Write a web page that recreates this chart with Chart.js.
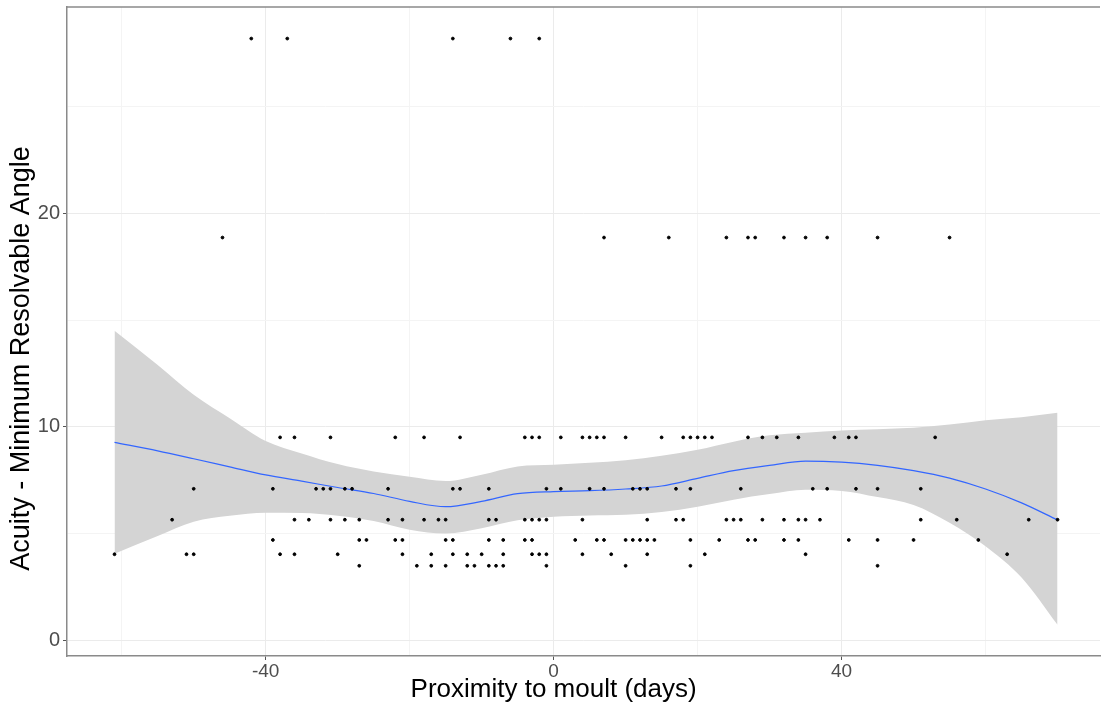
<!DOCTYPE html>
<html>
<head>
<meta charset="utf-8">
<script src="https://cdn.jsdelivr.net/npm/chart.js@4"></script>
<style>
  html, body { margin: 0; padding: 0; background: #fff; }
  #wrap { width: 1105px; height: 704px; }
</style>
</head>
<body>
<div id="wrap"><canvas id="acuity"></canvas></div>
<script>
// observed MRA levels (rows of points) and the days at which each was measured
var levelTop = 28.2, xTop = [-42, -37, -14, -6, -2];
var level19 = 18.87, x19 = [-46, 7, 16, 24, 27, 28, 32, 35, 38, 45, 55];
var level95 = 9.5, x95 = [-38, -36, -31, -22, -18, -13, -4, -3, -2, 1, 4, 5, 6, 7, 10, 15, 18, 19, 20, 21, 22, 27, 29, 31, 34, 39, 41, 42, 53];
var level71 = 7.09, x71 = [-50, -39, -33, -32, -31, -29, -28, -23, -14, -13, -9, -1, 1, 5, 7, 11, 12, 13, 17, 19, 26, 36, 38, 42, 45, 51];
var level56 = 5.64, x56 = [-53, -36, -34, -31, -29, -27, -23, -21, -18, -16, -15, -9, -8, -4, -3, -2, -1, 4, 13, 17, 18, 24, 25, 26, 29, 32, 34, 35, 37, 51, 56, 66, 70];
var level47 = 4.69, x47 = [-39, -27, -26, -22, -21, -15, -14, -9, -7, -4, -3, 3, 6, 7, 10, 11, 12, 13, 14, 19, 23, 27, 28, 32, 34, 41, 45, 50, 59];
var level40 = 4.02, x40 = [-61, -51, -50, -38, -36, -30, -21, -17, -14, -12, -10, -7, -3, -2, -1, 4, 8, 13, 21, 35, 63];
var level35 = 3.48, x35 = [-27, -19, -17, -15, -12, -11, -9, -8, -7, -1, 10, 19, 45];

// loess fit with its confidence band
var smoothX  = [-61, -55, -50, -45, -40, -35, -30, -25, -20, -15, -10, -5, 0, 5, 10, 15, 20, 25, 30, 35, 40, 45, 50, 55, 60, 65, 70];
var smoothY  = [9.27, 8.87, 8.5, 8.12, 7.74, 7.45, 7.15, 6.87, 6.5, 6.25, 6.5, 6.86, 6.96, 7.0, 7.08, 7.22, 7.58, 7.94, 8.19, 8.39, 8.34, 8.19, 7.94, 7.59, 7.08, 6.43, 5.63];
var smoothHi = [14.5, 12.9, 11.5, 10.4, 9.33, 8.75, 8.25, 7.9, 7.65, 7.45, 7.75, 8.14, 8.22, 8.31, 8.43, 8.64, 8.92, 9.3, 9.6, 9.72, 9.82, 9.88, 9.95, 10.1, 10.3, 10.45, 10.65];
var smoothLo = [4.05, 4.88, 5.55, 5.83, 5.97, 5.96, 5.83, 5.58, 5.17, 4.99, 5.24, 5.61, 5.78, 5.84, 5.87, 6.0, 6.25, 6.58, 6.84, 7.04, 6.99, 6.7, 6.33, 5.5, 4.4, 2.93, 0.72];

var xTicks = [-60, -40, -20, 0, 20, 40, 60];
var xLabels = [-40, 0, 40];
var yTicks = [0, 5, 10, 15, 20, 25];
var yLabels = [0, 10, 20];
var xTitle = 'Proximity to moult (days)';
var yTitle = 'Acuity - Minimum Resolvable Angle';

function rowPoints(xs, level) {
  return xs.map(function (d) { return {x: d, y: level}; });
}
var points = [].concat(
  rowPoints(xTop, levelTop), rowPoints(x19, level19), rowPoints(x95, level95),
  rowPoints(x71, level71), rowPoints(x56, level56), rowPoints(x47, level47),
  rowPoints(x40, level40), rowPoints(x35, level35)
);
function curve(ys) {
  return smoothX.map(function (d, i) { return {x: d, y: ys[i]}; });
}

var FONT = 'Liberation Sans, Arial, sans-serif';

// top edge of the panel box + axis titles (the titles sit off-centre in the original)
var extras = {
  id: 'extras',
  afterDraw: function (chart) {
    var a = chart.chartArea, c = chart.ctx;
    c.save();
    c.strokeStyle = '#8a8a8a';
    c.lineWidth = 1.5;
    c.beginPath();
    c.moveTo(a.left, a.top);
    c.lineTo(a.right, a.top);
    c.stroke();

    c.fillStyle = '#000';
    c.font = '26px ' + FONT;
    c.textAlign = 'center';
    c.textBaseline = 'middle';
    c.fillText(xTitle, chart.scales.x.getPixelForValue(0), 690);

    c.font = '27px ' + FONT;
    c.translate(22, chart.scales.y.getPixelForValue(13.2));
    c.rotate(-Math.PI / 2);
    c.fillText(yTitle, 0, 0);
    c.restore();
  }
};

var ctx = document.getElementById('acuity').getContext('2d');
var chart = new Chart(ctx, {
  type: 'scatter',
  data: {
    datasets: [
      {
        label: 'points',
        data: points,
        backgroundColor: '#000',
        borderColor: '#000',
        pointRadius: 1.4,
        order: 0
      },
      {
        type: 'line',
        label: 'fit',
        data: curve(smoothY),
        borderColor: '#3366FF',
        borderWidth: 1.2,
        pointRadius: 0,
        fill: false,
        cubicInterpolationMode: 'monotone',
        order: 1
      },
      {
        type: 'line',
        label: 'lower',
        data: curve(smoothLo),
        borderColor: 'rgba(0,0,0,0)',
        borderWidth: 0,
        pointRadius: 0,
        fill: false,
        cubicInterpolationMode: 'monotone',
        order: 3
      },
      {
        type: 'line',
        label: 'upper',
        data: curve(smoothHi),
        borderColor: 'rgba(0,0,0,0)',
        borderWidth: 0,
        backgroundColor: '#d4d4d4',
        pointRadius: 0,
        fill: '-1',
        cubicInterpolationMode: 'monotone',
        order: 2
      }
    ]
  },
  options: {
    responsive: true,
    maintainAspectRatio: false,
    animation: false,
    layout: { padding: { top: 7, left: 0, right: 0, bottom: 0 } },
    plugins: {
      legend: { display: false },
      tooltip: { enabled: false }
    },
    scales: {
      x: {
        type: 'linear',
        min: -67.6,
        max: 75.9,
        afterFit: function (s) {
          s.height = 48;
          s.paddingLeft = 0; s.paddingRight = 0;
        },
        afterBuildTicks: function (s) { s.ticks = xTicks.map(function (v) { return {value: v}; }); },
        ticks: {
          autoSkip: false,
          maxRotation: 0,
          padding: 0,
          color: '#4d4d4d',
          font: { family: FONT, size: 19 },
          callback: function (v) { return xLabels.indexOf(v) >= 0 ? String(v) : ''; }
        },
        grid: {
          color: function (c) { return xLabels.indexOf(c.tick.value) >= 0 ? '#ebebeb' : '#f4f4f4'; },
          tickColor: function (c) { return xLabels.indexOf(c.tick.value) >= 0 ? '#555' : 'rgba(0,0,0,0)'; },
          tickLength: 4
        },
        border: { color: '#8a8a8a', width: 1.5 },
        title: { display: false, text: xTitle }
      },
      y: {
        type: 'linear',
        min: -0.75,
        max: 29.68,
        afterFit: function (s) {
          s.width = 67;
          s.paddingTop = 0; s.paddingBottom = 0;
        },
        afterBuildTicks: function (s) { s.ticks = yTicks.map(function (v) { return {value: v}; }); },
        ticks: {
          autoSkip: false,
          padding: 3,
          color: '#4d4d4d',
          font: { family: FONT, size: 20 },
          callback: function (v) { return yLabels.indexOf(v) >= 0 ? String(v) : ''; }
        },
        grid: {
          color: function (c) { return yLabels.indexOf(c.tick.value) >= 0 ? '#ebebeb' : '#f4f4f4'; },
          tickColor: function (c) { return yLabels.indexOf(c.tick.value) >= 0 ? '#555' : 'rgba(0,0,0,0)'; },
          tickLength: 4
        },
        border: { color: '#8a8a8a', width: 1.5 },
        title: { display: false, text: yTitle }
      }
    }
  },
  plugins: [extras]
});
</script>
</body>
</html>
